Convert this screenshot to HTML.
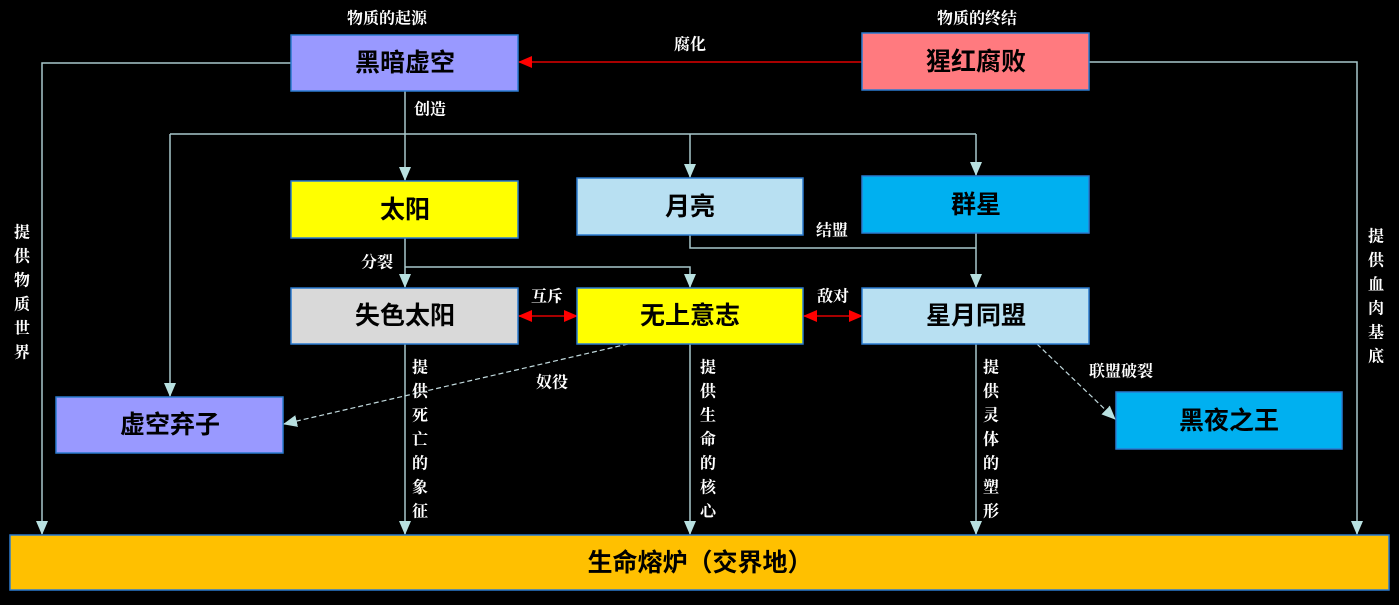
<!DOCTYPE html>
<html><head><meta charset="utf-8"><style>
html,body{margin:0;padding:0;background:#000;}
svg{display:block}
.b{stroke:#2a7bd0;stroke-width:1.5}
.t{font-family:"Liberation Sans","Noto Sans CJK SC",sans-serif;font-size:25px;font-weight:bold;fill:#000;text-anchor:middle;dominant-baseline:central}
.l{font-family:"Liberation Serif","Noto Serif CJK SC",serif;font-size:16px;font-weight:bold;fill:#fff;text-anchor:middle;dominant-baseline:central}
.c{stroke:#a8c8cc;stroke-width:1.5;fill:none}
.d{stroke:#c0d8dc;stroke-width:1.2;fill:none;stroke-dasharray:5 3}
.r{stroke:#e00000;stroke-width:1.5;fill:none}
</style></head><body>
<svg width="1399" height="605" viewBox="0 0 1399 605">
<defs>
<marker id="a" markerWidth="14" markerHeight="12" refX="13" refY="6" orient="auto" markerUnits="userSpaceOnUse"><path d="M0,0 L14,6 L0,12 Z" fill="#b8e0e0"/></marker>
<marker id="ra" markerWidth="14" markerHeight="12" refX="13" refY="6" orient="auto" markerUnits="userSpaceOnUse"><path d="M0,0 L14,6 L0,12 Z" fill="#ff0000"/></marker>
<marker id="rs" markerWidth="14" markerHeight="12" refX="1" refY="6" orient="auto" markerUnits="userSpaceOnUse"><path d="M14,0 L0,6 L14,12 Z" fill="#ff0000"/></marker>
</defs>
<!-- connectors -->
<path class="c" d="M291,63 H42 V534" marker-end="url(#a)"/>
<path class="c" d="M1089,62 H1357 V534" marker-end="url(#a)"/>
<path class="c" d="M405,91 V180" marker-end="url(#a)"/>
<path class="c" d="M170,134 H976"/>
<path class="c" d="M170,134 V396" marker-end="url(#a)"/>
<path class="c" d="M690,134 V177" marker-end="url(#a)"/>
<path class="c" d="M976,134 V175" marker-end="url(#a)"/>
<path class="c" d="M405,238 V287" marker-end="url(#a)"/>
<path class="c" d="M405,267 H690 V287" marker-end="url(#a)"/>
<path class="c" d="M690,235 V248 H976"/>
<path class="c" d="M976,233 V287" marker-end="url(#a)"/>
<path class="c" d="M405,344 V534" marker-end="url(#a)"/>
<path class="c" d="M690,344 V534" marker-end="url(#a)"/>
<path class="c" d="M976,344 V534" marker-end="url(#a)"/>
<path class="d" d="M628,344 L284,424" marker-end="url(#a)"/>
<path class="d" d="M1037,344 L1115,419" marker-end="url(#a)"/>
<path class="r" d="M862,62 H519" marker-end="url(#ra)"/>
<path class="r" d="M519,316 H577" marker-start="url(#rs)" marker-end="url(#ra)"/>
<path class="r" d="M804,316 H862" marker-start="url(#rs)" marker-end="url(#ra)"/>
<!-- boxes -->
<rect class="b" x="291" y="35" width="227" height="56" fill="#9999ff"/><text class="t" x="405" y="63">黑暗虚空</text>
<rect class="b" x="862" y="33" width="227" height="57" fill="#ff7a7f"/><text class="t" x="976" y="62">猩红腐败</text>
<rect class="b" x="291" y="181" width="227" height="57" fill="#ffff00"/><text class="t" x="405" y="210">太阳</text>
<rect class="b" x="577" y="178" width="226" height="57" fill="#b8e0f2"/><text class="t" x="690" y="207">月亮</text>
<rect class="b" x="862" y="176" width="227" height="57" fill="#00b0f0"/><text class="t" x="976" y="205">群星</text>
<rect class="b" x="291" y="288" width="227" height="56" fill="#d9d9d9"/><text class="t" x="405" y="316">失色太阳</text>
<rect class="b" x="577" y="288" width="226" height="56" fill="#ffff00"/><text class="t" x="690" y="316">无上意志</text>
<rect class="b" x="862" y="288" width="227" height="56" fill="#b8e0f2"/><text class="t" x="976" y="316">星月同盟</text>
<rect class="b" x="56" y="397" width="227" height="56" fill="#9999ff"/><text class="t" x="170" y="425">虚空弃子</text>
<rect class="b" x="1116" y="392" width="226" height="57" fill="#00b0f0"/><text class="t" x="1229" y="421">黑夜之王</text>
<rect class="b" x="10" y="535" width="1379" height="55" fill="#ffc000"/><text class="t" x="700" y="563">生命熔炉（交界地）</text>
<!-- labels -->
<text class="l" x="387" y="19">物质的起源</text>
<text class="l" x="977" y="19">物质的终结</text>
<text class="l" x="690" y="45">腐化</text>
<text class="l" x="430" y="110">创造</text>
<text class="l" x="832" y="231">结盟</text>
<text class="l" x="377" y="263">分裂</text>
<text class="l" x="547" y="297">互斥</text>
<text class="l" x="833" y="297">敌对</text>
<text class="l" x="552" y="383">奴役</text>
<text class="l" x="1121" y="372">联盟破裂</text>
<g class="l">
<text class="l" x="22" y="233">提</text><text class="l" x="22" y="257">供</text><text class="l" x="22" y="281">物</text><text class="l" x="22" y="305">质</text><text class="l" x="22" y="329">世</text><text class="l" x="22" y="353">界</text>
<text class="l" x="1376" y="237">提</text><text class="l" x="1376" y="261">供</text><text class="l" x="1376" y="285">血</text><text class="l" x="1376" y="309">肉</text><text class="l" x="1376" y="333">基</text><text class="l" x="1376" y="357">底</text>
<text class="l" x="420" y="368">提</text><text class="l" x="420" y="392">供</text><text class="l" x="420" y="416">死</text><text class="l" x="420" y="440">亡</text><text class="l" x="420" y="464">的</text><text class="l" x="420" y="488">象</text><text class="l" x="420" y="512">征</text>
<text class="l" x="708" y="368">提</text><text class="l" x="708" y="392">供</text><text class="l" x="708" y="416">生</text><text class="l" x="708" y="440">命</text><text class="l" x="708" y="464">的</text><text class="l" x="708" y="488">核</text><text class="l" x="708" y="512">心</text>
<text class="l" x="991" y="368">提</text><text class="l" x="991" y="392">供</text><text class="l" x="991" y="416">灵</text><text class="l" x="991" y="440">体</text><text class="l" x="991" y="464">的</text><text class="l" x="991" y="488">塑</text><text class="l" x="991" y="512">形</text>
</g>
</svg>
</body></html>
